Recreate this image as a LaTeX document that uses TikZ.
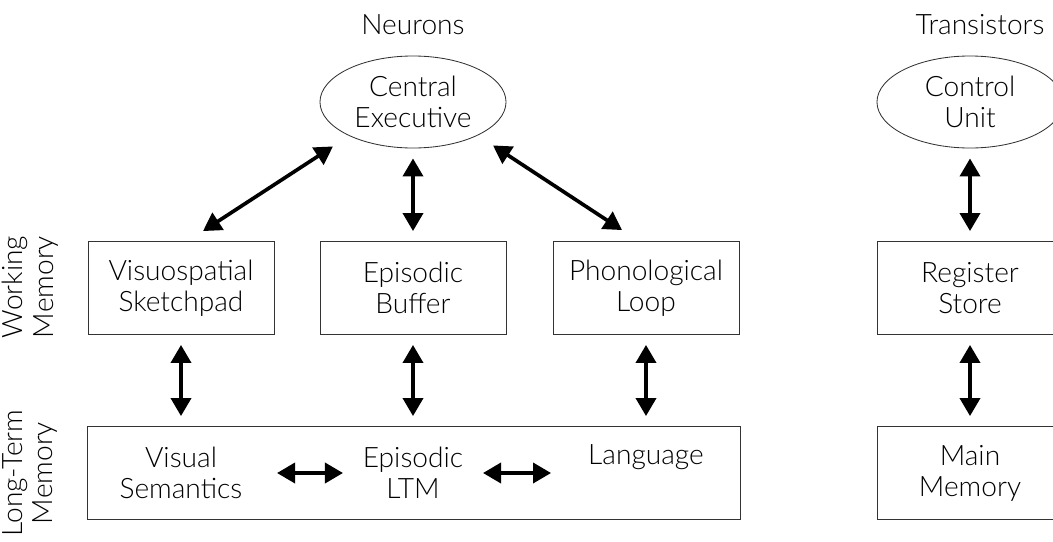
\documentclass[tikz,border=0pt]{standalone}
\usepackage{fontspec}
\setmainfont{Lato}[UprightFont=* Light]
\usepackage{tikz}
\usetikzlibrary{arrows.meta,shapes.geometric,positioning}

\begin{document}
\begin{tikzpicture}[x=0.025cm, y=-0.025cm,
        unit/.style = {draw=black!80, line width=0.6pt, ellipse, minimum width=4.65cm, minimum height=2.3cm, inner sep=0pt, align=center, font=\fontsize{20}{22}\selectfont},
        store/.style = {draw=black!80, line width=0.6pt, rectangle, minimum width=4.65cm, minimum height=2.325cm, inner sep=0pt, align=center, font=\fontsize{20}{22}\selectfont},
        label/.style = {align=center, inner sep=0pt, font=\fontsize{20}{22}\selectfont},
        link/.style = {line width=2.6pt, {Triangle[length=0.45cm,width=0.5cm]}-{Triangle[length=0.45cm,width=0.5cm]}, shorten <=0.25cm, shorten >=0.25cm},]
    \clip (0,0) rectangle (1053,541);
    \useasboundingbox (0,0) rectangle (1053,541);

    % neurons
    \node[label] (neu) at (413,25) {Neurons};
    \node[unit] (ce) at (413,102) {Central\\Executive};
    \node[store] (vs) at (181,288) {Visuospatial\\Sketchpad};
    \node[store] (eb) at (413,288) {Episodic\\Buffer};
    \node[store] (pl) at (646,288) {Phonological\\Loop};
    \node[store, minimum width=16.3cm] (ltm) at (414,473) {};
    \node[label] (vsem) at (181,473) {Visual\\Semantics};
    \node[label] (eltm) at (413,473) {Episodic\\LTM};
    \node[label] (lang) at (646,457) {Language};

    \node[label, rotate=90] (wm) at (30,287) {Working\\Memory};
    \node[label, rotate=90] (lt) at (30,473) {Long-Term\\Memory};

    % transistors
    \node[label] (tra) at (980,25) {Transistors};
    \node[unit] (cu) at (970,102) {Control\\Unit};
    \node[store] (rs) at (970,288) {Register\\Store};
    \node[store] (mm) at (970,473) {Main\\Memory};

    \draw[link] (ce) -- (eb);
    \draw[link, shorten <=0, shorten >=0] ([xshift=0.55cm,yshift=0.25cm]vs.north) -- ([xshift=-2.0cm,yshift=0.05cm]ce.south);
    \draw[link, shorten <=0, shorten >=0] ([xshift=-0.6cm,yshift=0.275cm]pl.north) -- ([xshift=2.0cm,yshift=0.075cm]ce.south);
    \draw[link] (vs) -- (vs.south |- ltm.north);
    \draw[link] (eb) -- (eb.south |- ltm.north);
    \draw[link] (pl) -- (pl.south |- ltm.north);
    \draw[link, shorten <=0, shorten >=0] ([xshift=2.4cm]vsem.center) -- ([xshift=-1.75cm]eltm.center);
    \draw[link, shorten <=0, shorten >=0] ([xshift=1.75cm]eltm.center) -- ([xshift=3.45cm]eltm.center);
    \draw[link] (cu) -- (rs);
    \draw[link] (rs) -- (mm);
\end{tikzpicture}
\end{document}
